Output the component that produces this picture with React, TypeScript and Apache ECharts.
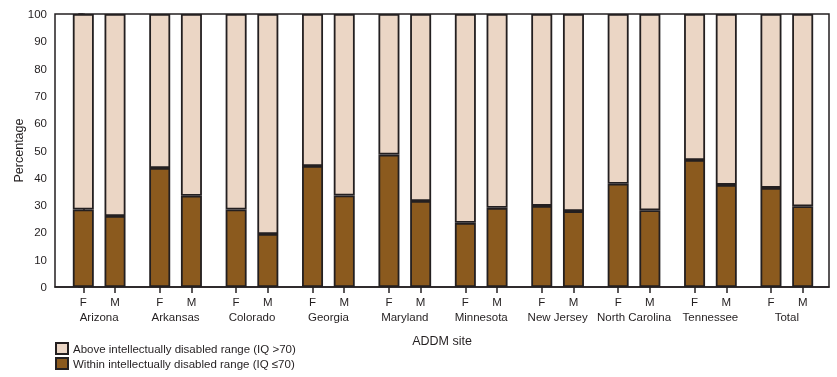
import React, { useEffect, useRef } from "react";
import * as echarts from "echarts";

const sites = ["Arizona", "Arkansas", "Colorado", "Georgia", "Maryland", "Minnesota", "New Jersey", "North Carolina", "Tennessee", "Total"];
const sexLabels = ["F", "M"];
const femaleWithin = [28.4, 43.6, 28.4, 44.3, 48.5, 23.5, 29.7, 37.8, 46.5, 36.3];
const maleWithin = [26.0, 33.4, 19.4, 33.5, 31.5, 29.0, 27.8, 28.1, 37.4, 29.6];
const femaleAbove = [71.6, 56.4, 71.6, 55.7, 51.5, 76.5, 70.3, 62.2, 53.5, 63.7];
const maleAbove = [74.0, 66.6, 80.6, 66.5, 68.5, 71.0, 72.2, 71.9, 62.6, 70.4];
const yTicks = [0, 10, 20, 30, 40, 50, 60, 70, 80, 90, 100];

const seriesNames = [
  "Above intellectually disabled range (IQ >70)",
  "Within intellectually disabled range (IQ \u226470)",
];

const GROUP_STEP = 2.41;
const X_MIN = -0.893;
const X_MAX = 23.52;
const FONT = "'Liberation Sans', Arial, sans-serif";
const INK = "#231f20";
const BROWN = "#8b5a1e";
const BEIGE = "#ebd6c5";

export default function App() {
  const ref = useRef<HTMLDivElement>(null);
  useEffect(() => {
    if (!ref.current) return;
    const chart = echarts.init(ref.current, null, { renderer: "svg" });

    const positions: number[] = [];
    const posLabels: string[] = [];
    const withinData: number[][] = [];
    const aboveData: number[][] = [];
    sites.forEach((_, i) => {
      sexLabels.forEach((s, k) => {
        const x = i * GROUP_STEP + k;
        positions.push(x);
        posLabels.push(s);
        const w = k === 0 ? femaleWithin[i] : maleWithin[i];
        const a = k === 0 ? femaleAbove[i] : maleAbove[i];
        withinData.push([w, x]);
        aboveData.push([a, x]);
      });
    });
    const centers = sites.map((_, i) => i * GROUP_STEP + 0.5);
    const nearest = (arr: number[], v: number) => {
      let best = 0;
      arr.forEach((p, i) => {
        if (Math.abs(p - v) < Math.abs(arr[best] - v)) best = i;
      });
      return best;
    };

    const itemStyleBase = { borderColor: INK, borderWidth: 1.8 };

    chart.setOption({
      animation: false,
      textStyle: { fontFamily: FONT },
      grid: {
        left: 55,
        right: 8,
        top: 14,
        bottom: 90,
        containLabel: false,
        outerBoundsMode: "none",
        show: true,
        borderColor: INK,
        borderWidth: 1.5,
        backgroundColor: "transparent",
      },
      legend: {
        data: seriesNames,
        orient: "vertical",
        left: 55,
        top: 342,
        padding: 0,
        itemWidth: 12,
        itemHeight: 11,
        itemGap: 2,
        icon: "rect",
        textStyle: { fontSize: 11.5, color: INK, fontFamily: FONT },
      },
      xAxis: [
        {
          type: "value",
          min: X_MIN,
          max: X_MAX,
          position: "bottom",
          splitLine: { show: false },
          axisLine: { show: true, lineStyle: { color: INK, width: 1.5 } },
          axisTick: { show: true, customValues: positions, length: 6, lineStyle: { color: INK, width: 1.5 } },
          axisLabel: {
            customValues: positions,
            formatter: (v: number) => posLabels[nearest(positions, v)],
            margin: 9,
            fontSize: 11.5,
            color: INK,
            fontFamily: FONT,
          },
        },
        {
          type: "value",
          min: X_MIN,
          max: X_MAX,
          position: "bottom",
          offset: 15,
          splitLine: { show: false },
          axisLine: { show: false },
          axisTick: { show: false },
          axisLabel: {
            customValues: centers,
            formatter: (v: number) => sites[nearest(centers, v)],
            margin: 9,
            fontSize: 11.5,
            color: INK,
            fontFamily: FONT,
          },
          name: "ADDM site",
          nameLocation: "middle",
          nameGap: 32,
          nameTextStyle: { fontSize: 12.5, color: INK, fontFamily: FONT },
        },
      ],
      yAxis: {
        type: "value",
        min: 0,
        max: 100,
        interval: 10,
        splitLine: { show: false },
        axisLine: { show: true, lineStyle: { color: INK, width: 1.5 } },
        axisTick: { show: true, length: 5, lineStyle: { color: INK, width: 1.5 } },
        axisLabel: {
          margin: 8,
          fontSize: 11.5,
          color: INK,
          fontFamily: FONT,
          customValues: yTicks,
        },
        name: "Percentage",
        nameLocation: "middle",
        nameGap: 30,
        nameMoveOverlap: false,
        nameTextStyle: { fontSize: 12.5, color: INK, fontFamily: FONT },
      },
      series: [
        {
          name: seriesNames[1],
          type: "bar",
          stack: "total",
          xAxisIndex: 0,
          barWidth: 21,
          encode: { x: 1, y: 0 },
          data: withinData,
          itemStyle: { ...itemStyleBase, color: BROWN },
        },
        {
          name: seriesNames[0],
          type: "bar",
          stack: "total",
          xAxisIndex: 0,
          barWidth: 21,
          encode: { x: 1, y: 0 },
          data: aboveData,
          itemStyle: { ...itemStyleBase, color: BEIGE },
        },
      ],
    });
    return () => chart.dispose();
  }, []);
  return <div ref={ref} style={{ position: "fixed", left: 0, top: 0, width: 837, height: 377 }} />;
}
